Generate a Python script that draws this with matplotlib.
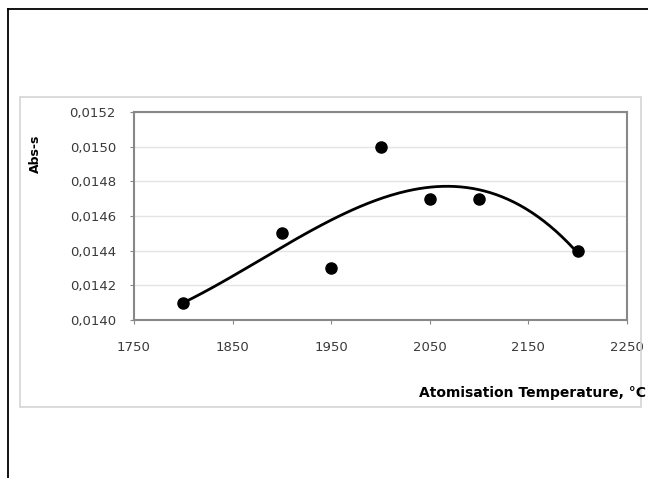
import numpy as np
import matplotlib
matplotlib.use("Agg")
import matplotlib.pyplot as plt
from matplotlib.patches import Rectangle
from matplotlib.lines import Line2D

temperature = [1800, 1900, 1950, 2000, 2050, 2100, 2200]
abs_s = [0.0141, 0.0145, 0.0143, 0.0150, 0.0147, 0.0147, 0.0144]
x_ticks = [1750, 1850, 1950, 2050, 2150, 2250]
y_ticks = [0.0140, 0.0142, 0.0144, 0.0146, 0.0148, 0.0150, 0.0152]

plt.rcParams['font.family'] = ['DejaVu Sans']

W, H = 648, 478
fig = plt.figure(figsize=(W / 100, H / 100), dpi=100)

# outer frame (page border) and chart area box
fig.add_artist(Line2D([8 / W, 8 / W], [0, 1 - 9 / H], transform=fig.transFigure,
                      color='black', lw=1.3))
fig.add_artist(Line2D([8 / W, 1], [1 - 9 / H, 1 - 9 / H], transform=fig.transFigure,
                      color='black', lw=1.3))
fig.add_artist(Rectangle((20 / W, 1 - 407 / H), 621 / W, 310 / H, transform=fig.transFigure,
                         fill=False, edgecolor='#d4d4d4', lw=1.2))

ax = fig.add_axes([134 / W, 1 - 320 / H, 493 / W, 208 / H])

# 3rd order polynomial trendline
coef = np.polyfit(temperature, abs_s, 3)
xs = np.linspace(min(temperature), max(temperature), 200)
ax.plot(xs, np.polyval(coef, xs), color='black', lw=2, zorder=3)
ax.plot(temperature, abs_s, 'o', color='black', markersize=8, zorder=4)

ax.set_xlim(1750, 2250)
ax.set_ylim(0.0140, 0.0152)
ax.set_xticks(x_ticks)
ax.set_yticks(y_ticks)
ax.set_xticklabels([str(t) for t in x_ticks], fontsize=9.5, color='#3a3a3a')
ax.set_yticklabels([f'{v:.4f}'.replace('.', ',') for v in y_ticks], fontsize=9.5, color='#3a3a3a')
ax.tick_params(direction='out', length=3, color='#888888', width=0.8, pad=10)
ax.tick_params(axis='x', pad=12)
ax.grid(axis='y', color='#e4e4e4', lw=1)
ax.set_axisbelow(True)
for s in ax.spines.values():
    s.set_color('#888888')
    s.set_linewidth(1.5)

fig.text(35 / W, 1 - 154 / H, 'Abs-s', rotation=90, fontsize=9, fontweight='bold',
         ha='center', va='center')
fig.text(646 / W, 1 - 393 / H, 'Atomisation Temperature, °C', fontsize=10,
         fontweight='bold', ha='right', va='center')

fig.savefig('out.png', dpi=100)
